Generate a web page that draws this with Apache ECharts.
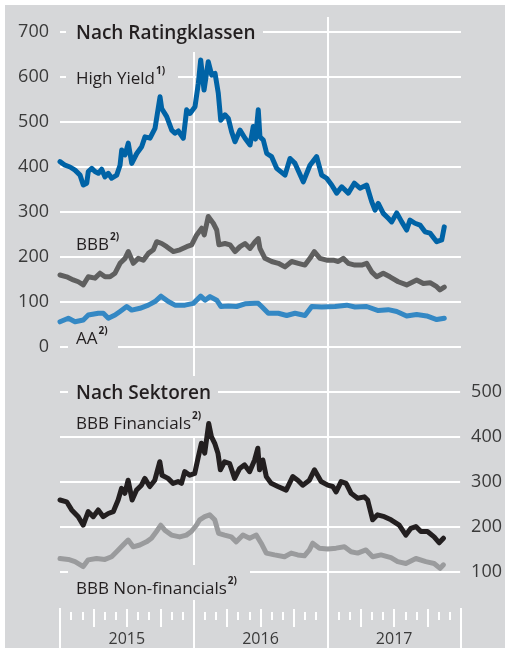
<!DOCTYPE html>
<html>
<head>
<meta charset="utf-8">
<script src="https://cdn.jsdelivr.net/npm/echarts@6/dist/echarts.min.js"></script>
<style>
html, body { margin: 0; padding: 0; background: #fff; }
#panel { position: absolute; left: 5px; top: 5px; width: 500px; height: 643px; background: #d6d7d9; }
#chart-panel { position: absolute; left: 0; top: 0; width: 505px; height: 653px; }
</style>
</head>
<body>
<div id="panel"></div>
<div id="chart-panel"></div>
<script>
// x = months since January 2015, y = spread in basis points
var highYield = [[0,412],[0.45,404],[0.9,400],[1.35,393],[1.8,382],[2.09,360],[2.4,364],[2.54,390],[2.85,397],[3.14,390],[3.44,386],[3.74,395],[4.04,378],[4.34,386],[4.64,375],[5.09,382],[5.39,404],[5.54,438],[5.84,427],[6.13,453],[6.44,408],[6.89,430],[7.33,445],[7.63,467],[8.08,464],[8.53,486],[8.98,556],[9.13,530],[9.58,512],[10.03,482],[10.32,475],[10.62,480],[11.07,464],[11.37,527],[11.67,519],[12.12,534],[12.42,586],[12.63,638],[12.93,571],[13.31,634],[13.62,604],[13.92,608],[14.21,564],[14.43,504],[14.81,516],[15.11,508],[15.41,478],[15.71,456],[16.16,482],[16.61,464],[17.06,449],[17.35,490],[17.55,462],[17.8,527],[17.95,467],[18.25,460],[18.56,430],[19.0,423],[19.45,397],[20.2,382],[20.65,419],[21.1,408],[21.84,367],[22.44,404],[23.04,423],[23.49,382],[23.94,375],[24.39,360],[24.84,342],[25.29,356],[25.88,342],[26.42,364],[26.93,353],[27.53,360],[27.98,323],[28.28,304],[28.57,319],[29.02,297],[29.47,286],[29.78,278],[30.23,298],[30.68,278],[31.12,260],[31.42,282],[31.87,275],[32.32,271],[32.77,256],[33.22,253],[33.82,234],[34.27,238],[34.5,267]];
var bbb = [[0,160],[0.6,156],[1.19,149],[1.64,145],[2.09,138],[2.54,156],[3.14,153],[3.59,164],[4.04,156],[4.49,156],[4.94,164],[5.39,186],[5.84,197],[6.13,212],[6.58,186],[7.03,197],[7.48,193],[7.93,208],[8.38,216],[8.68,234],[9.13,230],[9.58,223],[10.17,212],[10.77,216],[11.37,223],[11.82,227],[12.27,249],[12.72,264],[12.95,249],[13.31,290],[13.76,275],[14.07,260],[14.27,227],[14.81,230],[15.26,227],[15.71,212],[16.16,223],[16.61,230],[17.06,219],[17.51,234],[17.8,241],[17.95,219],[18.4,197],[19.0,190],[19.6,186],[20.2,178],[20.8,190],[21.39,186],[21.99,182],[22.44,197],[22.83,212],[23.34,197],[23.94,193],[24.54,193],[24.98,190],[25.43,197],[25.88,186],[26.48,182],[27.08,182],[27.53,186],[27.98,167],[28.43,156],[29.02,164],[29.62,156],[30.37,145],[31.12,138],[32.02,149],[32.62,141],[33.22,143],[33.82,134],[34.11,127],[34.5,133]];
var aa = [[0,56],[0.75,64],[1.35,56],[2.09,60],[2.54,71],[3.44,75],[3.89,75],[4.34,64],[4.94,71],[5.39,79],[5.99,90],[6.44,82],[7.18,86],[7.93,93],[8.53,101],[9.07,113],[9.72,101],[10.32,93],[11.22,93],[11.97,97],[12.63,113],[13.02,104],[13.47,112],[14.07,104],[14.45,90],[15.11,91],[15.86,90],[16.61,96],[17.51,97],[17.8,97],[18.1,90],[18.7,75],[19.6,75],[20.35,70],[21.1,75],[21.99,70],[22.6,90],[23.49,89],[24.69,90],[25.74,93],[26.48,89],[27.53,90],[28.57,81],[29.47,83],[30.23,79],[31.12,69],[32.02,72],[32.92,69],[33.82,61],[34.5,64]];
var bbbFin = [[0,260],[0.6,256],[1.05,238],[1.64,223],[2.09,204],[2.54,234],[2.99,223],[3.44,238],[3.89,223],[4.34,230],[4.79,234],[5.23,260],[5.54,286],[5.84,275],[6.13,304],[6.49,260],[6.89,282],[7.33,293],[7.63,308],[8.08,290],[8.53,304],[8.98,345],[9.18,315],[9.72,308],[10.17,297],[10.62,301],[10.93,297],[11.22,323],[11.67,315],[12.12,319],[12.42,353],[12.72,386],[13.02,364],[13.38,430],[13.62,401],[13.92,386],[14.21,364],[14.43,327],[14.81,345],[15.26,341],[15.71,308],[16.16,330],[16.61,338],[17.06,323],[17.51,349],[17.8,375],[17.95,327],[18.25,349],[18.56,312],[19.0,297],[19.6,290],[20.35,282],[20.94,312],[21.39,304],[21.84,293],[22.44,304],[22.89,327],[23.49,301],[24.09,293],[24.54,290],[24.84,278],[25.29,301],[25.74,297],[26.19,275],[26.78,264],[27.38,267],[27.68,260],[28.13,216],[28.57,227],[29.18,223],[29.78,216],[30.52,204],[31.12,182],[31.57,197],[32.02,201],[32.47,190],[33.06,190],[33.66,178],[34.11,165],[34.5,175]];
var bbbNonFin = [[0,130],[0.75,128],[1.35,123],[2.09,112],[2.54,127],[3.29,130],[4.04,128],[4.64,134],[5.09,145],[5.68,160],[6.13,171],[6.58,156],[7.18,160],[7.78,167],[8.23,175],[8.68,190],[9.07,204],[9.43,193],[10.03,182],[10.77,178],[11.37,182],[11.82,190],[12.27,204],[12.57,216],[13.02,223],[13.47,227],[13.92,216],[14.27,186],[14.81,182],[15.41,178],[15.86,167],[16.46,182],[17.06,175],[17.66,182],[17.8,178],[18.1,164],[18.56,142],[19.3,138],[20.2,134],[20.8,142],[21.39,138],[21.99,136],[22.44,149],[22.74,164],[23.34,153],[24.09,151],[24.84,153],[25.59,156],[26.19,145],[26.78,142],[27.53,149],[28.13,134],[28.88,138],[29.78,132],[30.38,123],[31.12,119],[32.02,130],[32.92,123],[33.66,119],[34.2,108],[34.5,116]];
var years = ['2015', '2016', '2017'];

var chart = document.getElementById('chart-panel');
var myChart = echarts.init(chart);

var bg = '#d6d7d9';
var font = 'Open Sans';
var txt = '#231f20';

function hidden(extra) {
  return Object.assign({
    type: 'value', min: 0, max: 36,
    axisLine: { show: false, onZero: false }, axisTick: { show: false },
    axisLabel: { show: false }, splitLine: { show: false }
  }, extra);
}

// one grid per tick size, ticks hang down from the grid's top edge
function tickAxis(gi, interval, len) {
  return hidden({
    gridIndex: gi, position: 'top', interval: interval,
    axisTick: { show: true, inside: true, length: len, lineStyle: { color: '#fff', width: 2 } }
  });
}

function box(x, y, w, h) {
  return { type: 'rect', z: 3, shape: { x: x, y: y, width: w, height: h }, style: { fill: bg } };
}

function label(x, y, main, sup, size, weight) {
  return {
    type: 'text', z: 4, x: x, y: y,
    style: {
      text: '{m|' + main + '}' + (sup ? '{s|' + sup + '}' : ''),
      verticalAlign: 'middle',
      rich: {
        m: { fontSize: size, fontWeight: weight || 'normal', fontFamily: font, fill: txt, lineHeight: size + 4, verticalAlign: 'bottom' },
        s: { fontSize: 10, fontWeight: 'bold', fontFamily: font, fill: txt, padding: [0, 0, 0, 1], lineHeight: size + 4, verticalAlign: 'top' }
      }
    }
  };
}

function line(data, color, xi) {
  return {
    type: 'line', data: data, xAxisIndex: xi, yAxisIndex: xi, z: 5,
    showSymbol: false, silent: true, animation: false,
    lineStyle: { color: color, width: 5, cap: 'round', join: 'round' }
  };
}

var option = {
  backgroundColor: 'transparent',
  animation: false,
  grid: [
    { left: 60, right: 44, top: 32, height: 315 },
    { left: 60, right: 44, top: 392, height: 180 },
    { left: 60, right: 44, top: 17, bottom: 5 },
    { left: 60, right: 44, top: 612, bottom: 5 },
    { left: 60, right: 44, top: 609, bottom: 5 },
    { left: 60, right: 44, top: 608, bottom: 5 },
    { left: 60, right: 44, top: 612, bottom: 5 }
  ],
  xAxis: [
    hidden({ gridIndex: 0 }),
    hidden({ gridIndex: 1 }),
    hidden({ gridIndex: 2, interval: 12,
      splitLine: { show: true, showMinLine: false, showMaxLine: false, lineStyle: { color: '#fff', width: 2 } } }),
    tickAxis(3, 1, 8),
    tickAxis(4, 3, 18),
    tickAxis(5, 12, 40),
    hidden({ gridIndex: 6, position: 'bottom', interval: 6,
      axisLabel: { show: true, inside: true, margin: 1, fontSize: 16, fontFamily: font, color: '#3a3a3a',
        showMinLabel: false, showMaxLabel: false,
        formatter: function (v) { return v % 12 === 6 ? years[(v - 6) / 12] : ''; } } })
  ],
  yAxis: [
    { type: 'value', gridIndex: 0, min: 0, max: 700, interval: 100,
      axisLine: { show: false }, axisTick: { show: false },
      axisLabel: { margin: 11, fontSize: 18, fontFamily: font, color: '#3a3a3a' },
      splitLine: { lineStyle: { color: '#fff', width: 2 } } },
    { type: 'value', gridIndex: 1, position: 'right', min: 100, max: 500, interval: 100,
      axisLine: { show: false }, axisTick: { show: false },
      axisLabel: { margin: 11, fontSize: 18, fontFamily: font, color: '#3a3a3a' },
      splitLine: { lineStyle: { color: '#fff', width: 2 } } },
    { type: 'value', gridIndex: 2, show: false },
    { type: 'value', gridIndex: 3, show: false },
    { type: 'value', gridIndex: 4, show: false },
    { type: 'value', gridIndex: 5, show: false },
    { type: 'value', gridIndex: 6, show: false }
  ],
  graphic: [
    box(66, 14, 197, 38), label(76, 32, 'Nach Ratingklassen', '', 19, '600'),
    box(66, 66, 112, 22), label(76, 77, 'High Yield', '1)', 17),
    label(76, 243, 'BBB', '2)', 17),
    box(68, 328, 50, 24), label(76, 337, 'AA', '2)', 17),
    box(68, 376, 150, 32), label(76, 392, 'Nach Sektoren', '', 19, '600'),
    box(68, 406, 142, 30), label(76, 422, 'BBB Financials', '2)', 17),
    box(68, 565, 182, 35), label(76, 587, 'BBB Non-financials', '2)', 17)
  ],
  series: [
    line(highYield, '#0063a6', 0),
    line(bbb, '#5f5f5f', 0),
    line(aa, '#3488c4', 0),
    line(bbbFin, '#231f20', 1),
    line(bbbNonFin, '#9a9b9d', 1)
  ]
};

myChart.setOption(option);
</script>
</body>
</html>
